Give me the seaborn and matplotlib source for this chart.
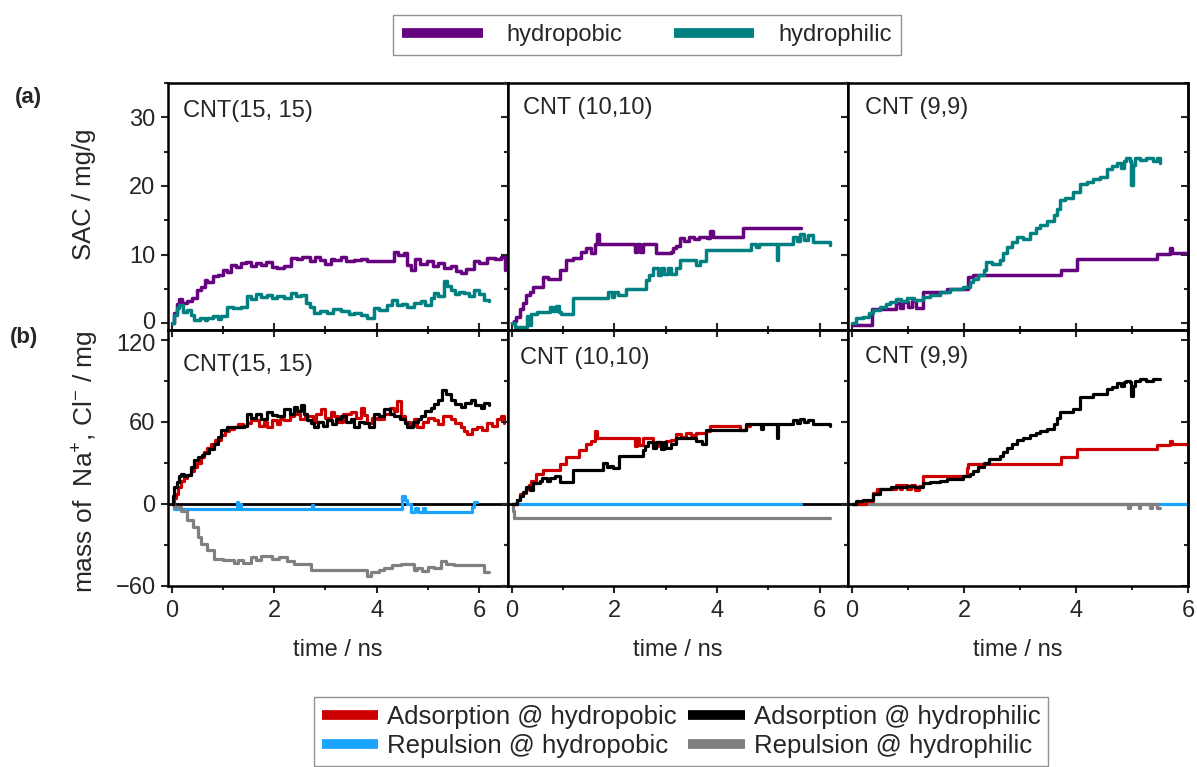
import numpy as np
import pandas as pd
import matplotlib
matplotlib.use("Agg")
import matplotlib.pyplot as plt
from matplotlib.lines import Line2D
from matplotlib.ticker import MultipleLocator
import matplotlib.transforms as mtransforms
import seaborn as sns

# ---------------- data (time / ns, value) ----------------
panels = ["CNT(15, 15)", "CNT (10,10)", "CNT (9,9)"]

# (a) SAC / mg/g
sac_pho_15 = [(0,0),(0.05,1.5),(0.1,2.8),(0.15,3.5),(0.2,3.0),(0.3,3.2),(0.4,3.6),(0.5,4.9),(0.57,5.2),(0.65,6.3),(0.7,6.0),(0.8,6.8),(0.9,7.0),(1.0,7.8),(1.09,7.5),(1.15,8.5),(1.25,8.2),(1.35,8.7),(1.45,8.9),(1.55,8.4),(1.65,8.8),(1.74,8.5),(1.85,8.9),(1.95,8.2),(2.05,8.0),(2.2,8.3),(2.32,9.5),(2.45,9.3),(2.55,9.6),(2.7,9.0),(2.8,9.6),(2.9,9.2),(3.0,8.6),(3.1,9.4),(3.17,9.2),(3.3,9.6),(3.4,9.0),(3.56,9.2),(3.7,9.4),(3.82,9.0),(4.0,9.0),(4.34,10.4),(4.42,10.0),(4.53,10.2),(4.6,8.5),(4.66,7.8),(4.75,9.3),(4.85,8.6),(4.99,9.0),(5.1,8.4),(5.2,8.8),(5.31,8.0),(5.45,8.4),(5.55,7.6),(5.64,7.3),(5.75,7.9),(5.9,9.0),(6.0,8.8),(6.16,9.5),(6.3,9.3),(6.42,9.7),(6.5,7.8)]
sac_phi_15 = [(0,0),(0.05,1.2),(0.1,2.2),(0.15,2.7),(0.22,1.6),(0.31,1.9),(0.38,1.2),(0.44,0.5),(0.55,0.8),(0.65,0.5),(0.7,0.7),(0.8,1.1),(0.9,0.6),(0.96,1.0),(1.09,2.4),(1.2,2.2),(1.35,2.4),(1.48,3.9),(1.55,3.5),(1.65,4.3),(1.75,3.8),(1.87,4.1),(1.95,3.6),(2.05,4.0),(2.2,3.6),(2.32,4.4),(2.42,3.9),(2.52,4.1),(2.62,2.9),(2.7,2.3),(2.78,1.5),(2.9,1.7),(3.04,1.5),(3.15,2.0),(3.3,1.7),(3.45,1.4),(3.56,1.5),(3.7,1.2),(3.82,0.7),(3.95,2.2),(4.05,1.9),(4.2,2.7),(4.3,3.3),(4.4,2.6),(4.5,2.8),(4.6,2.3),(4.72,3.0),(4.86,3.2),(4.95,2.6),(5.05,3.6),(5.12,4.4),(5.2,4.0),(5.31,6.1),(5.37,5.4),(5.44,4.9),(5.52,4.2),(5.6,4.6),(5.7,4.4),(5.8,3.9),(5.9,4.9),(6.0,4.3),(6.1,3.4),(6.19,3.2)]
sac_pho_10 = [(0,0),(0.05,0.3),(0.09,0.9),(0.16,2.1),(0.22,3.0),(0.29,4.1),(0.35,4.6),(0.42,5.3),(0.61,6.7),(0.7,6.5),(0.94,7.7),(1.06,9.2),(1.2,9.5),(1.36,10.4),(1.45,11.0),(1.55,10.2),(1.62,11.6),(1.66,13.0),(1.7,11.6),(2.36,11.6),(2.4,10.3),(2.44,11.6),(2.5,10.4),(2.55,11.6),(2.75,11.6),(2.82,10.2),(3.1,10.4),(3.14,10.9),(3.2,11.3),(3.27,12.4),(3.35,12.0),(3.45,12.6),(3.55,12.2),(3.65,12.6),(3.8,12.4),(3.86,13.4),(3.92,12.6),(4.44,12.6),(4.5,13.9),(5.64,13.9)]
sac_phi_10 = [(0,0),(0.06,-0.5),(0.25,-0.5),(0.3,1.0),(0.35,-0.3),(0.38,1.4),(0.5,1.6),(0.7,1.6),(0.74,2.4),(0.8,1.8),(0.86,2.5),(0.92,1.6),(0.97,1.4),(1.19,1.4),(1.2,3.6),(1.84,3.6),(1.87,4.6),(1.95,3.8),(2.0,4.6),(2.07,4.1),(2.23,5.0),(2.6,5.0),(2.62,6.3),(2.68,7.0),(2.75,8.0),(2.85,7.0),(2.9,8.0),(2.97,7.1),(3.05,8.0),(3.1,7.2),(3.2,8.1),(3.27,9.2),(3.5,9.2),(3.6,8.5),(3.66,9.0),(3.79,10.6),(4.6,10.6),(4.67,11.6),(4.75,11.1),(4.82,11.6),(5.16,11.6),(5.17,9.2),(5.19,11.6),(5.45,11.6),(5.48,12.6),(5.55,11.9),(5.62,13.0),(5.7,12.1),(5.78,12.8),(5.87,11.8),(6.19,11.4)]
sac_pho_9 = [(0,-0.3),(0.35,2.1),(0.74,2.1),(0.78,3.0),(0.85,2.2),(0.92,3.1),(1.0,2.4),(1.08,3.2),(1.15,2.2),(1.27,4.6),(1.65,4.6),(1.7,5.0),(2.05,5.0),(2.08,6.7),(2.17,7.0),(3.71,7.0),(3.73,7.7),(4.01,9.3),(5.41,9.3),(5.44,10.1),(5.66,10.1),(5.68,11.0),(5.72,10.2),(6.0,10.2)]
sac_phi_9 = [(0,0),(0.08,0.7),(0.2,0.9),(0.3,1.5),(0.38,1.9),(0.5,2.4),(0.6,2.8),(0.68,3.1),(0.78,3.5),(0.88,3.2),(0.98,3.6),(1.1,3.4),(1.27,3.8),(1.4,4.1),(1.57,4.6),(1.75,5.0),(1.99,5.3),(2.1,6.0),(2.17,6.5),(2.25,7.0),(2.35,7.7),(2.4,8.9),(2.5,8.6),(2.64,9.2),(2.7,10.2),(2.76,11.1),(2.85,11.8),(2.94,12.6),(3.05,12.2),(3.18,13.1),(3.28,13.8),(3.36,14.3),(3.48,14.9),(3.6,15.7),(3.66,16.6),(3.71,17.9),(3.8,18.3),(3.95,19.1),(4.07,20.3),(4.2,20.6),(4.3,21.0),(4.43,21.3),(4.55,22.5),(4.65,22.9),(4.73,23.3),(4.8,22.6),(4.85,23.6),(4.9,24.0),(4.97,23.6),(4.99,20.1),(5.02,23.0),(5.05,24.0),(5.15,23.8),(5.25,24.1),(5.38,23.7),(5.45,24.0),(5.5,23.3)]

# (b) mass of Na+, Cl- / mg
ads_pho_15 = [(0,0),(0.05,4),(0.08,7),(0.13,12),(0.18,17),(0.25,19),(0.31,21),(0.38,24),(0.44,27),(0.5,30),(0.57,34),(0.64,38),(0.7,41),(0.77,44),(0.85,47),(0.96,50),(1.05,53),(1.12,55),(1.22,56),(1.3,58),(1.4,57),(1.48,59),(1.55,62),(1.61,61),(1.7,57),(1.8,60),(1.87,56),(1.95,61),(2.05,58),(2.12,62),(2.2,61),(2.3,64),(2.39,66),(2.5,62),(2.6,66),(2.65,64),(2.75,60),(2.82,66),(2.91,69),(3.0,63),(3.1,67),(3.17,64),(3.25,60),(3.35,66),(3.49,67),(3.6,63),(3.69,70),(3.76,65),(3.82,59),(3.9,63),(4.0,62),(4.14,66),(4.25,70),(4.33,68),(4.4,75),(4.47,64),(4.55,60),(4.65,57),(4.72,62),(4.79,56),(4.9,60),(5.0,63),(5.12,61),(5.2,58),(5.3,64),(5.44,62),(5.52,59),(5.64,56),(5.7,53),(5.77,51),(5.85,55),(5.96,56),(6.05,54),(6.16,59),(6.25,57),(6.35,62),(6.42,64),(6.48,59)]
ads_phi_15 = [(0,0),(0.03,6),(0.05,12),(0.1,16),(0.15,20),(0.18,22),(0.25,20),(0.31,21),(0.38,27),(0.44,32),(0.52,34),(0.6,36),(0.64,37),(0.72,40),(0.83,44),(0.9,49),(0.96,54),(1.09,56),(1.42,57),(1.48,66),(1.55,63),(1.65,66),(1.75,62),(1.87,67),(1.95,65),(2.05,64),(2.2,69),(2.3,66),(2.39,71),(2.45,68),(2.52,72),(2.58,66),(2.65,61),(2.72,59),(2.78,56),(2.85,60),(2.95,57),(3.04,61),(3.12,58),(3.2,62),(3.3,64),(3.4,60),(3.5,62),(3.56,56),(3.65,60),(3.75,59),(3.85,56),(3.95,66),(4.05,64),(4.14,69),(4.25,66),(4.34,64),(4.45,62),(4.55,59),(4.6,56),(4.7,60),(4.8,62),(4.86,64),(4.95,68),(5.05,70),(5.12,73),(5.2,76),(5.28,83),(5.35,80),(5.44,76),(5.52,73),(5.64,71),(5.72,74),(5.84,76),(5.92,72),(6.03,70),(6.1,74),(6.19,72)]
rep_pho_15 = [(0,0),(0.05,-4),(1.25,-4),(1.27,1),(1.29,-4),(1.33,0),(1.36,-4),(2.72,-4),(2.74,-1),(2.76,-4),(4.47,-4),(4.5,6),(4.55,3),(4.6,0),(4.66,-6),(4.75,-3),(4.8,-6),(4.9,-3),(4.95,-6),(5.77,-6),(5.85,-2),(5.9,1),(5.96,1)]
rep_phi_15 = [(0,0),(0.05,-2.5),(0.18,-5),(0.31,-12),(0.41,-17),(0.51,-24),(0.57,-29),(0.7,-34),(0.83,-40),(1.0,-41),(1.22,-43),(1.3,-41),(1.4,-43),(1.55,-39),(1.65,-41),(1.75,-38),(1.87,-38),(1.95,-40),(2.1,-39),(2.26,-42),(2.39,-44),(2.71,-48),(3.82,-53),(3.88,-50),(3.95,-50),(4.05,-48),(4.14,-47),(4.3,-45),(4.47,-44),(4.65,-44),(4.72,-48),(4.79,-47),(4.88,-49),(5.0,-46),(5.12,-47),(5.25,-42),(5.36,-44),(5.51,-45),(6.1,-50),(6.19,-50)]

ads_pho_10 = [(0,0),(0.1,3),(0.16,7),(0.22,8),(0.29,11),(0.33,14),(0.38,17),(0.48,22),(0.61,25),(0.94,29),(1.06,34),(1.32,39),(1.45,44),(1.55,46),(1.62,48),(1.63,53),(1.66,48),(2.36,48),(2.4,42),(2.44,48),(2.48,43),(2.55,48),(2.7,48),(2.75,42),(2.85,45),(2.92,41),(3.01,46),(3.1,47),(3.21,51),(3.3,49),(3.4,52),(3.5,50),(3.6,52),(3.79,53),(3.86,57),(4.44,54),(4.57,57),(4.64,57)]
ads_phi_10 = [(0,0),(0.1,3),(0.16,6),(0.22,9),(0.29,12),(0.35,10),(0.42,15),(0.55,17),(0.6,19),(0.68,17),(0.74,19),(0.85,20),(0.94,16),(1.19,25),(1.78,30),(1.85,27),(1.91,28),(1.97,26),(2.1,35),(2.56,39),(2.6,42),(2.66,45),(2.75,41),(2.82,45),(2.9,40),(2.97,45),(3.01,41),(3.1,44),(3.21,48),(3.4,48),(3.6,46),(3.7,44),(3.79,54),(4.57,58),(4.8,58),(4.85,55),(4.9,58),(5.16,58),(5.17,48),(5.19,58),(5.45,58),(5.48,61),(5.55,59),(5.62,62),(5.7,60),(5.78,61),(5.87,58),(6.19,57)]
rep_pho_10 = [(0,0),(5.64,0)]
rep_phi_10 = [(0,0),(0.02,-5),(0.05,-10),(6.19,-10)]

ads_pho_9 = [(0,0),(0.26,2),(0.38,8),(0.44,10.5),(0.74,10.5),(0.78,14),(0.85,11),(0.9,14),(0.98,11),(1.05,14),(1.12,10),(1.2,13),(1.27,20),(1.6,20),(2.05,20),(2.06,26),(2.08,29),(2.17,29),(3.71,29),(3.73,34),(4.01,40),(5.41,40),(5.44,43),(5.66,43),(5.68,46),(5.72,44),(6.0,44)]
ads_phi_9 = [(0,0),(0.08,2),(0.2,3),(0.38,7),(0.5,10.5),(0.7,12),(0.98,13),(1.1,12),(1.27,15.5),(1.4,16),(1.57,17),(1.7,18),(1.99,20),(2.1,22),(2.17,24),(2.25,27),(2.35,30),(2.45,33),(2.64,35),(2.7,38),(2.76,41),(2.85,44),(2.94,47),(3.05,48),(3.18,50),(3.28,52),(3.36,53),(3.48,55),(3.6,58),(3.66,63),(3.71,67),(3.8,67),(3.95,69),(4.07,78),(4.2,78),(4.3,80),(4.43,80),(4.55,84),(4.65,85),(4.73,88),(4.8,86),(4.85,89),(4.9,90),(4.97,89),(4.99,79),(5.02,86),(5.05,90),(5.15,91),(5.25,90),(5.38,91),(5.5,91)]
rep_pho_9 = [(0,0),(6.0,0)]
rep_phi_9 = [(0,0),(4.9,0),(4.92,-3),(4.96,0),(5.1,0),(5.12,-3),(5.15,0),(5.3,0),(5.32,-3),(5.36,0),(5.45,-3),(5.5,-3)]

top_labels = ["hydropobic", "hydrophilic"]
bottom_labels = ["Adsorption @ hydropobic", "Adsorption @ hydrophilic",
                 "Repulsion @ hydropobic", "Repulsion @ hydrophilic"]

# ---------------- style ----------------
sns.set_theme(style="ticks")
plt.rcParams["font.family"] = ["Liberation Sans", "DejaVu Sans"]
plt.rcParams["mathtext.fontset"] = "custom"
plt.rcParams["mathtext.rm"] = "Liberation Sans"
plt.rcParams["mathtext.it"] = "Liberation Sans"
plt.rcParams["axes.linewidth"] = 1.8

C_PHO = "#66037f"
C_PHI = "#008080"
C_ADS_PHO = "#cc0000"
C_ADS_PHI = "#000000"
C_REP_PHO = "#1aa3ff"
C_REP_PHI = "#808080"

TICK_FS = 17

W, H = 1197, 767
fig = plt.figure(figsize=(W / 100, H / 100), dpi=100)

col_left = [168, 508, 848]
col_w = 340
top_row = (83, 330)
bot_row = (330, 586)


def make_ax(xpx, row):
    y0, y1 = row
    return fig.add_axes([xpx / W, 1 - y1 / H, col_w / W, (y1 - y0) / H])


def draw(ax, series, color, lw):
    df = pd.DataFrame(series, columns=["t", "v"])
    sns.lineplot(data=df, x="t", y="v", ax=ax, color=color, lw=lw,
                 drawstyle="steps-post", estimator=None, sort=False,
                 legend=False)


top_data = [(sac_pho_15, sac_phi_15), (sac_pho_10, sac_phi_10), (sac_pho_9, sac_phi_9)]
bot_data = [(ads_pho_15, ads_phi_15, rep_pho_15, rep_phi_15),
            (ads_pho_10, ads_phi_10, rep_pho_10, rep_phi_10),
            (ads_pho_9, ads_phi_9, rep_pho_9, rep_phi_9)]
xlims = [(-0.07, 6.56), (-0.07, 6.55), (-0.07, 6.0)]
txt_pos_top = [(0.045, 0.885), (0.045, 0.90), (0.05, 0.90)]
txt_pos_bot = [(0.045, 0.865), (0.035, 0.89), (0.05, 0.895)]


def style_axis(ax, yl, ymaj, ymin, xlim, show_ylab, bottom_row):
    ax.set_xlim(*xlim)
    ax.set_ylim(*yl)
    ax.set_xticks([0, 2, 4, 6])
    ax.xaxis.set_minor_locator(MultipleLocator(1))
    ax.set_yticks(ymaj)
    ax.yaxis.set_minor_locator(MultipleLocator(ymin))
    ax.set_xlabel("")
    ax.set_ylabel("")
    for s in ax.spines.values():
        s.set_linewidth(1.8)
        s.set_color("black")
    ax.tick_params(axis="y", which="both", direction="out", left=True,
                   labelleft=show_ylab, labelsize=TICK_FS, width=1.5, pad=4)
    ax.tick_params(axis="y", which="major", length=5)
    ax.tick_params(axis="y", which="minor", length=3)
    if bottom_row:
        ax.tick_params(axis="x", which="both", direction="out", bottom=True,
                       labelbottom=True, labelsize=TICK_FS, width=1.5, pad=5)
    else:
        ax.tick_params(axis="x", which="both", direction="in", bottom=True,
                       labelbottom=False, width=1.5)
    ax.tick_params(axis="x", which="major", length=5)
    ax.tick_params(axis="x", which="minor", length=3)
    # right ticks pointing inward
    sy = ax.secondary_yaxis("right")
    sy.set_yticks(ymaj)
    sy.yaxis.set_minor_locator(MultipleLocator(ymin))
    sy.tick_params(axis="y", which="both", direction="in", labelright=False, width=1.5)
    sy.tick_params(axis="y", which="major", length=5)
    sy.tick_params(axis="y", which="minor", length=3)
    sy.spines["right"].set_linewidth(1.8)
    if bottom_row:
        sx = ax.secondary_xaxis("top")
        sx.set_xticks([0, 2, 4, 6])
        sx.xaxis.set_minor_locator(MultipleLocator(1))
        sx.tick_params(axis="x", which="both", direction="in", labeltop=False, width=1.5)
        sx.tick_params(axis="x", which="major", length=5)
        sx.tick_params(axis="x", which="minor", length=3)
        sx.spines["top"].set_linewidth(1.8)
    ax.set_facecolor("white")


axes_top, axes_bot = [], []
for i in range(3):
    # ---- (a) row ----
    ax = make_ax(col_left[i], top_row)
    pho, phi = top_data[i]
    draw(ax, pho, C_PHO, 2.5)
    draw(ax, phi, C_PHI, 2.5)
    style_axis(ax, (-1, 35), [0, 10, 20, 30], 5, xlims[i], i == 0, False)
    ax.text(*txt_pos_top[i], panels[i], transform=ax.transAxes, fontsize=17,
            ha="left", va="center")
    axes_top.append(ax)

    # ---- (b) row ----
    ax = make_ax(col_left[i], bot_row)
    ax.axhline(0, color="black", lw=2.0, zorder=1)
    a_pho, a_phi, r_pho, r_phi = bot_data[i]
    draw(ax, r_pho, C_REP_PHO, 2.3)
    draw(ax, r_phi, C_REP_PHI, 2.3)
    draw(ax, a_pho, C_ADS_PHO, 2.3)
    draw(ax, a_phi, C_ADS_PHI, 2.3)
    style_axis(ax, (-60, 127), [-60, 0, 60, 120], 30, xlims[i], i == 0, True)
    ax.set_xlabel("time / ns", fontsize=17, labelpad=12)
    ax.text(*txt_pos_bot[i], panels[i], transform=ax.transAxes, fontsize=17,
            ha="left", va="center")
    axes_bot.append(ax)

# nudge the two tick labels that meet at the row boundary apart a little
for lab in axes_top[0].get_yticklabels():
    if lab.get_text() in ("0",):
        lab.set_transform(lab.get_transform() + mtransforms.ScaledTranslation(0, 2 / 72, fig.dpi_scale_trans))
for lab in axes_bot[0].get_yticklabels():
    if lab.get_text() in ("120",):
        lab.set_transform(lab.get_transform() + mtransforms.ScaledTranslation(0, -2 / 72, fig.dpi_scale_trans))

# y labels and panel letters
fig.text(84 / W, 1 - 194 / H, "SAC / mg/g", rotation=90, ha="center", va="center", fontsize=18.5)
fig.text(86 / W, 1 - 462 / H, r"mass of  Na$^{+}$, Cl$^{-}$ / mg", rotation=90,
         ha="center", va="center", fontsize=19)
fig.text(15 / W, 1 - 98 / H, "(a)", fontsize=16, fontweight="bold", ha="left", va="center")
fig.text(10 / W, 1 - 337 / H, "(b)", fontsize=16, fontweight="bold", ha="left", va="center")

# legends
h_top = [Line2D([], [], color=C_PHO, lw=7, solid_capstyle="butt"),
         Line2D([], [], color=C_PHI, lw=7, solid_capstyle="butt")]
leg1 = fig.legend(h_top, top_labels, loc="center", bbox_to_anchor=(647 / W, 1 - 35 / H),
                  ncol=2, fontsize=17, frameon=True, fancybox=False, handlelength=3.4,
                  handletextpad=1.0, columnspacing=2.2, borderpad=0.4, borderaxespad=0)
leg1.get_frame().set_edgecolor("#777777")
leg1.get_frame().set_linewidth(1.0)

h_bot = [Line2D([], [], color=C_ADS_PHO, lw=7, solid_capstyle="butt"),
         Line2D([], [], color=C_ADS_PHI, lw=7, solid_capstyle="butt"),
         Line2D([], [], color=C_REP_PHO, lw=7, solid_capstyle="butt"),
         Line2D([], [], color=C_REP_PHI, lw=7, solid_capstyle="butt")]
order = [0, 2, 1, 3]
leg2 = fig.legend([h_bot[k] for k in order], [bottom_labels[k] for k in order],
                  loc="upper center", bbox_to_anchor=(681 / W, 1 - 697 / H),
                  ncol=2, fontsize=18.5, frameon=True, fancybox=False, handlelength=2.2,
                  handletextpad=0.35, columnspacing=0.45, borderpad=0.3, labelspacing=0.2,
                  borderaxespad=0)
leg2.get_frame().set_edgecolor("#777777")
leg2.get_frame().set_linewidth(1.0)

fig.savefig("out.png", dpi=100, facecolor="white")
